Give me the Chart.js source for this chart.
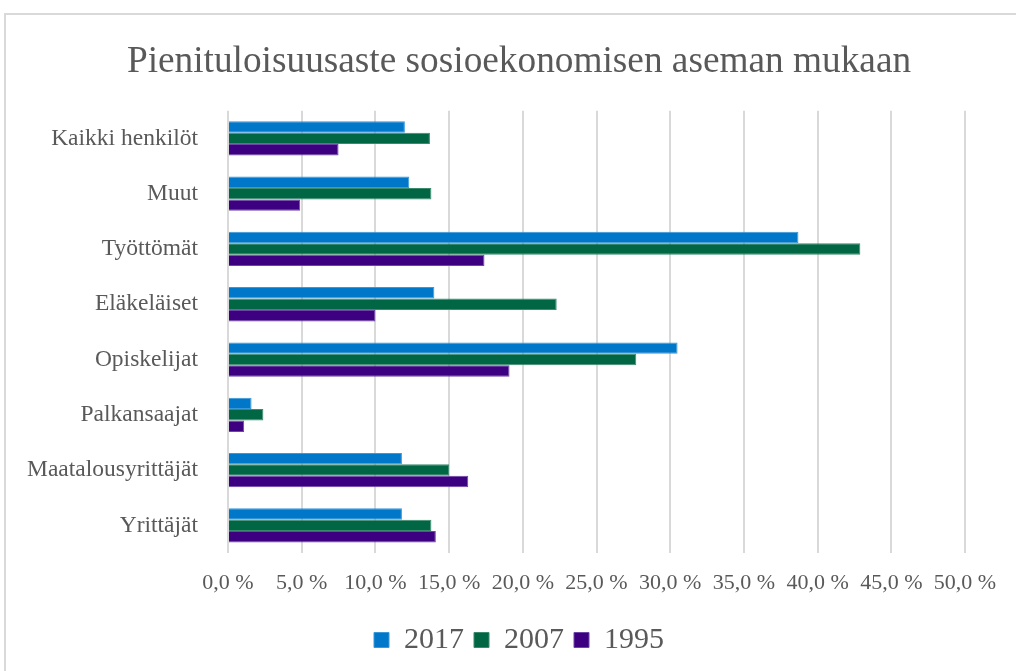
<!DOCTYPE html>
<html>
<head>
<meta charset="utf-8">
<script src="https://cdn.jsdelivr.net/npm/chart.js@4"></script>
<style>
  html, body { margin: 0; padding: 0; background: #fff; overflow: hidden; }
  #kehys { position: absolute; left: 4px; top: 13px; width: 1100px; height: 1000px; border: 2px solid #d9d9d9; box-sizing: border-box; }
  #alue { position: absolute; left: 0; top: 0; width: 1016px; height: 671px; }
</style>
</head>
<body>
<div id="kehys"></div>
<div id="alue"><canvas id="grafiikka" width="1016" height="671"></canvas></div>
<script>
const ryhmat = ["Kaikki henkilöt", "Muut", "Työttömät", "Eläkeläiset", "Opiskelijat", "Palkansaajat", "Maatalousyrittäjät", "Yrittäjät"];
const arvot2017 = [12.0, 12.3, 38.7, 14.0, 30.5, 1.6, 11.8, 11.8];
const arvot2007 = [13.7, 13.8, 42.9, 22.3, 27.7, 2.4, 15.0, 13.8];
const arvot1995 = [7.5, 4.9, 17.4, 10.0, 19.1, 1.1, 16.3, 14.1];
const akseliMax = 50;
const akseliVali = 5;

const fontti = "'Liberation Serif', 'Times New Roman', serif";
const harmaa = "#595959";

// vasen reunus niin, että otsikko ja selite keskittyvät kuten mallissa
const vasen = 73;

// y-akselin nimet saavat ulottua reunuksen puolelle (muuten ne leikataan)
const leveatNimet = {
  id: "leveatNimet",
  afterLayout(chart) {
    chart.scales.y.left = 0;
  },
};

const ctx = document.getElementById("grafiikka").getContext("2d");
new Chart(ctx, {
  type: "bar",
  data: {
    labels: ryhmat,
    datasets: [
      { label: "2017", data: arvot2017, backgroundColor: "#0077c8", borderColor: "#3a97d8", borderWidth: 1 },
      { label: "2007", data: arvot2007, backgroundColor: "#006644", borderColor: "#3a8a6c", borderWidth: 1 },
      { label: "1995", data: arvot1995, backgroundColor: "#3c0080", borderColor: "#6e44a6", borderWidth: 1 },
    ],
  },
  options: {
    indexAxis: "y",
    responsive: false,
    animation: false,
    layout: { padding: { left: vasen, right: 51, top: 0, bottom: 6 } },
    datasets: { bar: { categoryPercentage: 0.62, barPercentage: 1.0 } },
    plugins: {
      title: {
        display: true,
        text: "Pienituloisuusaste sosioekonomisen aseman mukaan",
        color: harmaa,
        font: { family: fontti, size: 37.3, weight: "normal" },
        padding: { top: 40, bottom: 26 },
      },
      legend: {
        position: "bottom",
        labels: {
          color: harmaa,
          font: { family: fontti, size: 30 },
          boxWidth: 15,
          boxHeight: 15,
          padding: 10,
        },
      },
      tooltip: { enabled: false },
    },
    scales: {
      x: {
        min: 0,
        max: akseliMax,
        ticks: {
          stepSize: akseliVali,
          color: harmaa,
          font: { family: fontti, size: 22 },
          padding: 17,
          callback: (v) => v.toFixed(1).replace(".", ",") + " %",
        },
        grid: { color: "#d9d9d9", lineWidth: 2, drawTicks: false },
        border: { display: false },
        afterFit: (s) => { s.height = 62; },
      },
      y: {
        ticks: { color: harmaa, font: { family: fontti, size: 23.5 }, padding: 22 },
        grid: { display: false },
        border: { display: false },
        afterFit: (s) => { s.width = 228 - vasen; },
      },
    },
  },
  plugins: [leveatNimet],
});
</script>
</body>
</html>
